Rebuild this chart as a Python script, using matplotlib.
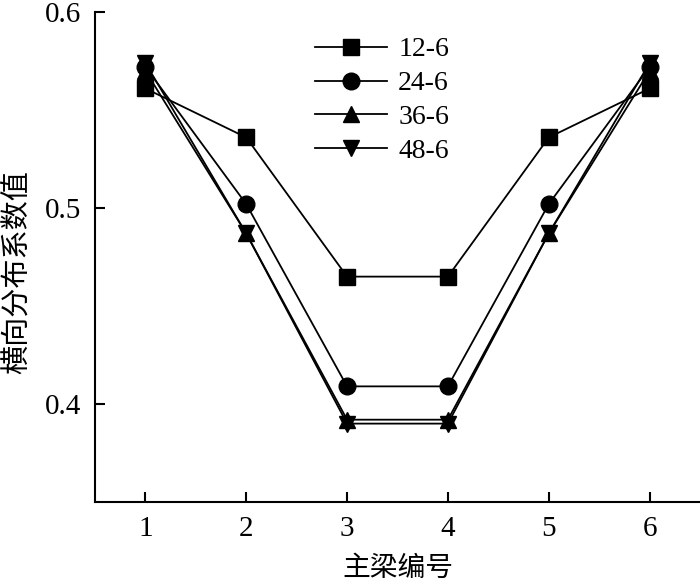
import matplotlib
matplotlib.use("Agg")
import matplotlib.pyplot as plt

girders = [1, 2, 3, 4, 5, 6]
s12_6 = [0.561, 0.536, 0.465, 0.465, 0.536, 0.561]
s24_6 = [0.572, 0.502, 0.409, 0.409, 0.502, 0.572]
s36_6 = [0.570, 0.487, 0.392, 0.392, 0.487, 0.570]
s48_6 = [0.574, 0.487, 0.390, 0.390, 0.487, 0.574]
labels = ["12-6", "24-6", "36-6", "48-6"]

plt.rcParams['font.family'] = ['Liberation Serif', 'Noto Sans CJK SC']
fig = plt.figure(figsize=(7, 5.84), dpi=100)
ax = fig.add_axes([0.1357, 0.1404, 0.8643, 0.8390])

series = [s12_6, s24_6, s36_6, s48_6]
markers = ['s', 'o', '^', 'v']
sizes = [11, 12, 12, 12]
for s, m, ms, lab in zip(series, markers, sizes, labels):
    ax.plot(girders, s, color='black', lw=1.3, marker=m, ms=ms, label=lab)

ax.set_xlim(0.5, 6.5)
ax.set_ylim(0.35, 0.6)
ax.set_xticks(girders)
ax.set_yticks([0.4, 0.5, 0.6])
ax.set_yticklabels(['0.4', '0.5', '0.6'])
ax.spines['top'].set_visible(False)
ax.spines['right'].set_visible(False)
for sp in ['left', 'bottom']:
    ax.spines[sp].set_linewidth(1.5)
ax.tick_params(direction='in', length=7, width=1.5, labelsize=21, pad=10)

ax.set_xlabel('主梁编号', fontsize=20, family=['Noto Sans CJK SC'], labelpad=8)
ax.set_ylabel('横向分布系数值', fontsize=21, family=['Noto Sans CJK SC'])
ax.yaxis.set_label_coords(-0.102, 0.47)

ax.legend(loc='upper left', bbox_to_anchor=(0.322, 1.0), frameon=False,
          fontsize=20, handlelength=2.6, labelspacing=0.3, handletextpad=0.4)

fig.savefig('out.png', dpi=100)
